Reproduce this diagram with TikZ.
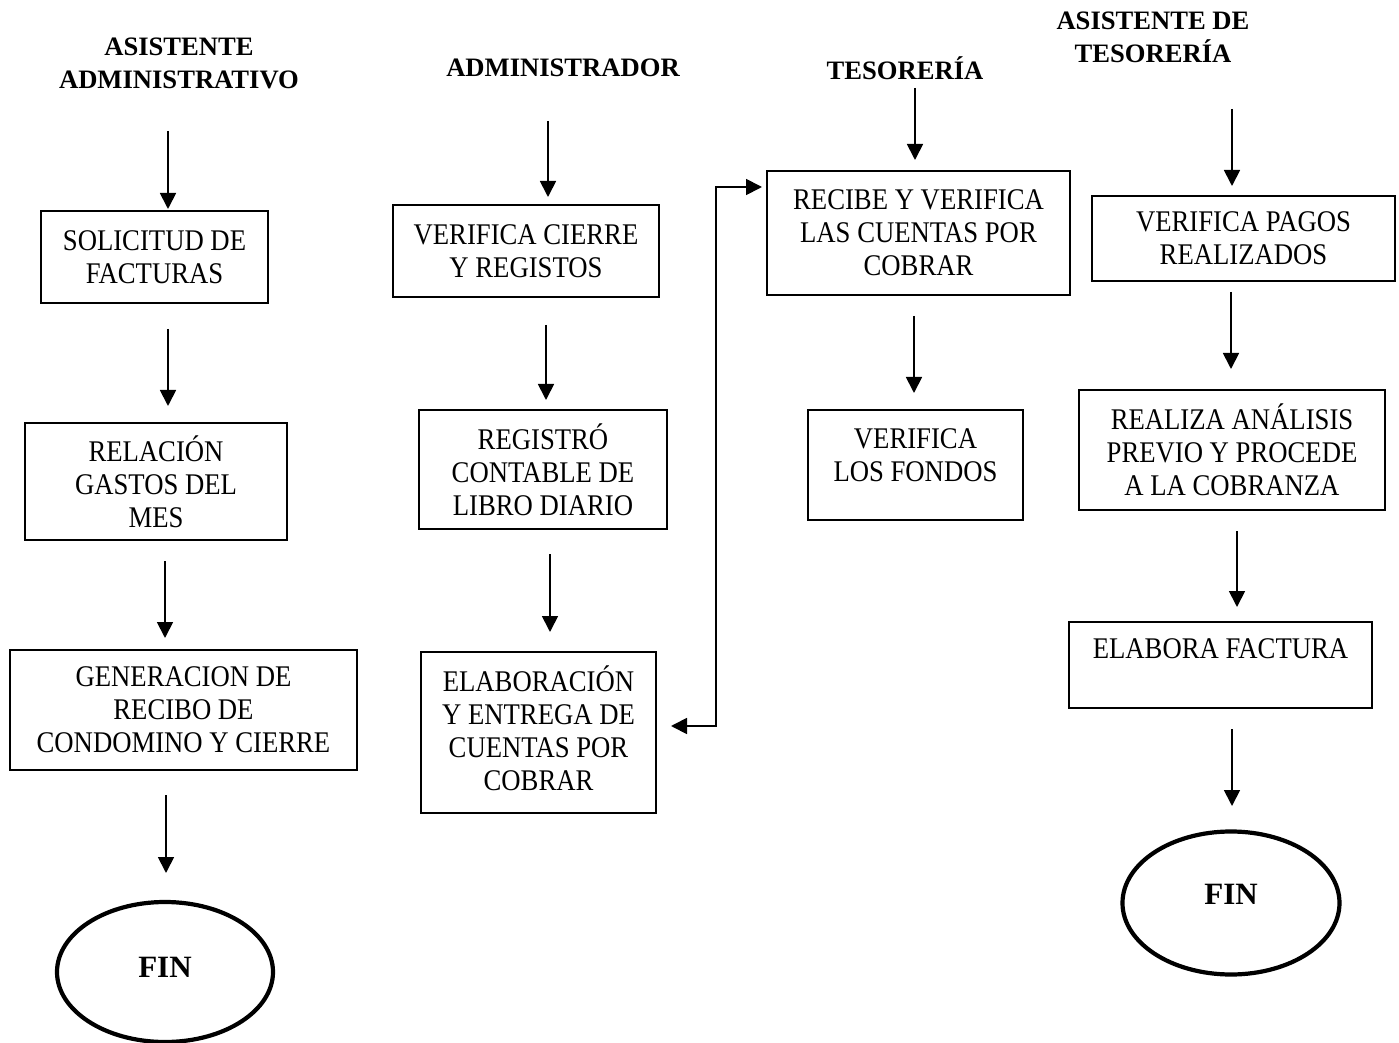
\documentclass[tikz,border=0pt]{standalone}
\usepackage{fontspec}
\setmainfont{Liberation Serif}
\newfontfamily\bodyfont{Liberation Serif}[FakeStretch=0.89]
\usetikzlibrary{calc,arrows.meta,shapes.geometric}
\tikzset{
  txt/.style={font=\bodyfont\fontsize{15pt}{16.5pt}\selectfont, align=center, inner sep=0pt, outer sep=0pt},
  hdr/.style={align=center, inner sep=0pt, outer sep=0pt, font=\fontsize{13.3pt}{16.5pt}\selectfont\bfseries},
  box/.style={txt, draw, line width=1.1pt},
  finbox/.style={draw, ellipse, line width=2.1pt, inner sep=0pt, outer sep=0pt},
  fintxt/.style={inner sep=0pt, outer sep=0pt, font=\fontsize{15.5pt}{18pt}\selectfont\bfseries},
  arr/.style={line width=0.9pt, -{Triangle[length=8pt,width=8pt]}},
  arr2/.style={line width=0.9pt, {Triangle[length=8pt,width=8pt]}-{Triangle[length=8pt,width=8pt]}}
}
\begin{document}
\begin{tikzpicture}[x=0.5pt,y=-0.5pt]
\useasboundingbox (0,0) rectangle (1399,1043);
% headers
\node[hdr] (h1) at (179,63) {ASISTENTE\\ADMINISTRATIVO};
\node[hdr] (h2) at (563,68) {ADMINISTRADOR};
\node[hdr] (h3) at (905,68) {TESORERÍA};
\node[hdr] (h4) at (1153,37) {ASISTENTE DE\\TESORERÍA};
% column 1
\node[box, minimum width=113.5pt, minimum height=46pt] (b1) at (154.5,257) {SOLICITUD DE\\FACTURAS};
\node[box, minimum width=131pt, minimum height=58.5pt] (b2) at (156,481.5) {RELACIÓN\\GASTOS DEL\\MES};
\node[box, minimum width=173.5pt, minimum height=60pt] (b3) at (183.5,710) {GENERACION DE\\RECIBO DE\\CONDOMINO Y CIERRE};
\node[finbox, minimum width=108pt, minimum height=70pt] (f1) at (165,972) {};
\node[fintxt] (f1t) at (165,967) {FIN};
% column 2
\node[box, minimum width=133pt, minimum height=46pt] (b4) at (526,251) {VERIFICA CIERRE\\Y REGISTOS};
\node[box, minimum width=124pt, minimum height=59.5pt] (b5) at (543,469.5) {REGISTRÓ\\CONTABLE DE\\LIBRO DIARIO};
\node[box, minimum width=117.5pt, minimum height=80.5pt] (b6) at (538.5,732.5) {};
\node[txt] (b6t) at (538.5,728.5) {ELABORACIÓN\\Y ENTREGA DE\\CUENTAS POR\\COBRAR};
% column 3
\node[box, minimum width=151.5pt, minimum height=62pt] (b7) at (918.5,233) {RECIBE Y VERIFICA\\LAS CUENTAS POR\\COBRAR};
\node[box, minimum width=107.5pt, minimum height=55pt] (b8) at (915.5,465) {};
\node[txt] (b8t) at (915.5,455) {VERIFICA\\LOS FONDOS};
% column 4
\node[box, minimum width=151.5pt, minimum height=42.5pt] (b9) at (1243.5,238.5) {VERIFICA PAGOS\\REALIZADOS};
\node[box, minimum width=153pt, minimum height=60pt] (b10) at (1232,450) {REALIZA ANÁLISIS\\PREVIO Y PROCEDE\\A LA COBRANZA};
\node[box, minimum width=151.5pt, minimum height=43pt] (b11) at (1220.5,665) {};
\node[txt] (b11t) at (1220.5,649) {ELABORA FACTURA};
\node[finbox, minimum width=108.5pt, minimum height=71.5pt] (f2) at (1231,903) {};
\node[fintxt] (f2t) at (1231,894) {FIN};
% arrows column 1
\draw[arr] ($(h1.center)+(-11,68)$) -- ($(b1.north)+(13.5,-2)$);
\draw[arr] ($(b1.south)+(13.5,26)$) -- ($(b2.north)+(12,-17)$);
\draw[arr] ($(b2.south)+(9,21)$) -- ($(b3.north)+(-18.5,-12)$);
\draw[arr] ($(b3.south)+(-17.5,25)$) -- ($(f1.north)+(1,-29)$);
% arrows column 2
\draw[arr] ($(h2.center)+(-15,53)$) -- ($(b4.north)+(22,-8)$);
\draw[arr] ($(b4.south)+(20,28)$) -- ($(b5.north)+(3,-10)$);
\draw[arr] ($(b5.south)+(7,25)$) -- ($(b6.north)+(11.5,-20)$);
% arrows column 3
\draw[arr] ($(h3.center)+(10,20)$) -- ($(b7.north)+(-3.5,-11)$);
\draw[arr] ($(b7.south)+(-4.5,21)$) -- ($(b8.north)+(-1.5,-17)$);
% arrows column 4
\draw[arr] ($(h4.center)+(79,72)$) -- ($(b9.north)+(-11.5,-10)$);
\draw[arr] ($(b9.south)+(-12.5,11)$) -- ($(b10.north)+(-1,-21)$);
\draw[arr] ($(b10.south)+(5,21)$) -- ($(b11.north)+(16.5,-15)$);
\draw[arr] ($(b11.south)+(11.5,21)$) -- ($(f2.north)+(1,-25.5)$);
% elbow connector
\draw[arr2] ($(b6.east)+(15,-6.5)$) -| ($(b7.west)+(-51,-46)$) -- ($(b7.west)+(-5,-46)$);
\end{tikzpicture}
\end{document}
